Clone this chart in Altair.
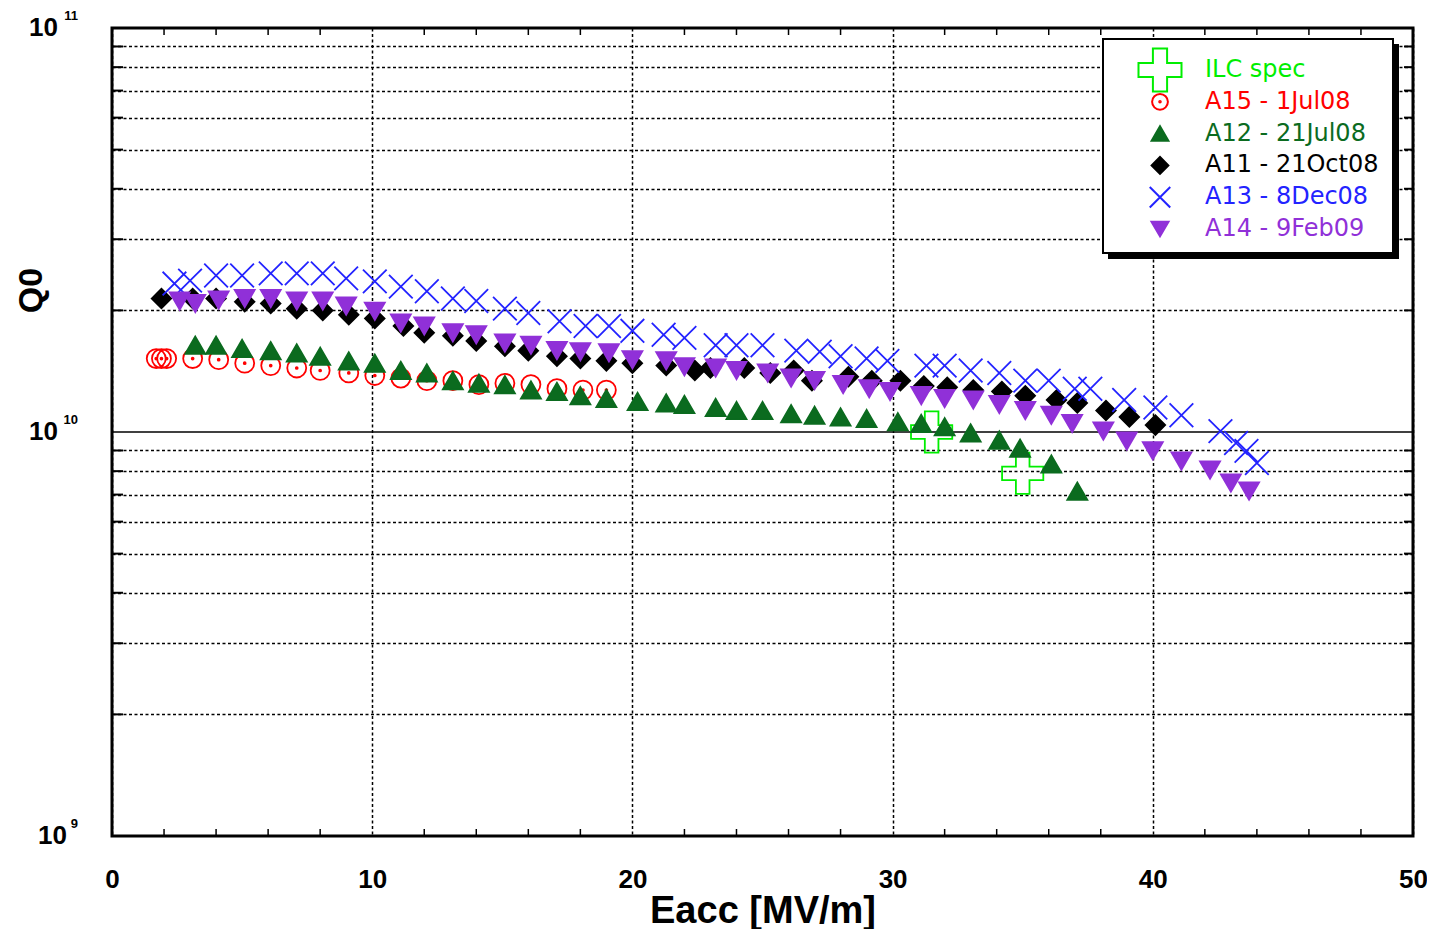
import altair as alt
import pandas as pd

# ---------------- data ----------------
series = ["ILC spec", "A15 - 1Jul08", "A12 - 21Jul08", "A11 - 21Oct08", "A13 - 8Dec08", "A14 - 9Feb09"]
stroke_colors = ["#00ee00", "#ff0000", "#0b6b1f", "#000000", "#2323ff", "#9030d8"]
fill_colors = ["transparent", "transparent", "#0b6b1f", "#000000", "transparent", "#9030d8"]

ilc_e = [31.5, 35.0]
ilc_q = [1.0e10, 7.9e9]

a15_e = [1.7, 1.9, 2.1, 3.1, 4.1, 5.1, 6.1, 7.1, 8.0, 9.1, 10.1, 11.1, 12.1, 13.1, 14.1, 15.1, 16.1, 17.1, 18.1, 19.0]
a15_q = [1.52, 1.52, 1.52, 1.52, 1.51, 1.48, 1.46, 1.44, 1.42, 1.40, 1.38, 1.36, 1.34, 1.34, 1.31, 1.32, 1.31, 1.28, 1.27, 1.27]

a12_e = [3.2, 4.0, 5.0, 6.1, 7.1, 8.0, 9.1, 10.1, 11.1, 12.1, 13.1, 14.1, 15.1, 16.1, 17.1, 18.0, 19.0, 20.2,
         21.3, 22.0, 23.2, 24.0, 25.0, 26.1, 27.0, 28.0, 29.0, 30.2, 31.1, 32.0, 33.0, 34.1, 34.9, 36.1, 37.1]
a12_q = [1.64, 1.64, 1.61, 1.59, 1.57, 1.54, 1.50, 1.48, 1.42, 1.40, 1.34, 1.32, 1.31, 1.27, 1.26, 1.23, 1.21, 1.19,
         1.18, 1.17, 1.15, 1.13, 1.13, 1.11, 1.10, 1.09, 1.08, 1.06, 1.05, 1.03, 0.995, 0.955, 0.912, 0.833, 0.714]

a11_e = [1.9, 3.1, 4.0, 5.1, 6.1, 7.1, 8.1, 9.1, 10.1, 11.2, 12.0, 13.1, 14.0, 15.1, 16.0, 17.1, 18.0, 19.0, 20.0,
         21.3, 22.4, 23.0, 24.3, 25.3, 26.2, 26.9, 28.3, 29.2, 30.3, 31.2, 32.1, 33.1, 34.2, 35.1, 36.3, 37.1, 38.2,
         39.1, 40.1]
a11_q = [2.14, 2.14, 2.14, 2.10, 2.08, 2.02, 2.00, 1.95, 1.91, 1.83, 1.76, 1.73, 1.68, 1.63, 1.59, 1.54, 1.52, 1.50,
         1.48, 1.46, 1.42, 1.44, 1.44, 1.40, 1.42, 1.34, 1.37, 1.34, 1.34, 1.30, 1.29, 1.27, 1.26, 1.23, 1.20, 1.18,
         1.13, 1.09, 1.04]

a13_e = [2.4, 3.0, 4.0, 5.0, 6.1, 7.1, 8.1, 9.0, 10.1, 11.1, 12.1, 13.1, 14.0, 15.1, 16.0, 17.2, 18.2, 19.1, 20.0,
         21.2, 22.0, 23.2, 24.0, 25.0, 26.3, 27.2, 28.0, 29.0, 29.8, 31.3, 32.0, 33.0, 34.1, 35.1, 36.0, 37.0, 37.6,
         38.9, 40.1, 41.1, 42.6, 43.2, 43.6, 44.0]
a13_q = [2.33, 2.37, 2.44, 2.44, 2.47, 2.47, 2.47, 2.40, 2.36, 2.29, 2.23, 2.14, 2.11, 2.02, 1.97, 1.88, 1.83, 1.83,
         1.78, 1.74, 1.71, 1.64, 1.64, 1.64, 1.59, 1.58, 1.54, 1.52, 1.50, 1.46, 1.46, 1.42, 1.40, 1.34, 1.34, 1.28,
         1.28, 1.20, 1.15, 1.10, 1.005, 0.939, 0.898, 0.838]

a14_e = [2.6, 3.2, 4.1, 5.1, 6.1, 7.1, 8.1, 9.0, 10.1, 11.1, 12.0, 13.1, 14.0, 15.1, 16.1, 17.1, 18.0, 19.1, 20.0,
         21.3, 22.0, 23.2, 24.0, 25.2, 26.1, 27.0, 28.1, 29.1, 29.9, 31.1, 32.0, 33.1, 34.1, 35.1, 36.1, 36.9, 38.1,
         39.0, 40.0, 41.1, 42.2, 43.0, 43.7]
a14_q = [2.11, 2.08, 2.12, 2.14, 2.14, 2.11, 2.11, 2.05, 1.99, 1.86, 1.83, 1.76, 1.74, 1.66, 1.64, 1.59, 1.58, 1.57,
         1.51, 1.50, 1.45, 1.44, 1.42, 1.40, 1.36, 1.34, 1.31, 1.28, 1.26, 1.23, 1.21, 1.20, 1.17, 1.13, 1.10, 1.05,
         1.005, 0.950, 0.898, 0.847, 0.805, 0.748, 0.714]

x_tick_values = [0, 10, 20, 30, 40, 50]
x_minor_ticks = [2, 4, 6, 8, 12, 14, 16, 18, 22, 24, 26, 28, 32, 34, 36, 38, 42, 44, 46, 48]
y_minor_values = [2e9, 3e9, 4e9, 5e9, 6e9, 7e9, 8e9, 9e9, 2e10, 3e10, 4e10, 5e10, 6e10, 7e10, 8e10, 9e10]
decades = [9, 10, 11]

# ---------------- tables ----------------
rows = []
for name, es, qs, mult in [
    (series[0], ilc_e, ilc_q, 1.0),
    (series[1], a15_e, a15_q, 1e10),
    (series[2], a12_e, a12_q, 1e10),
    (series[3], a11_e, a11_q, 1e10),
    (series[4], a13_e, a13_q, 1e10),
    (series[5], a14_e, a14_q, 1e10),
]:
    for e, q in zip(es, qs):
        rows.append({"series": name, "E": e, "Q": q * mult})
df = pd.DataFrame(rows)

df_dec = pd.DataFrame({"Q": [10.0 ** d for d in decades], "exp": [str(d) for d in decades]})
leg_df = pd.DataFrame({"series": series})

plus_path = ("M-0.33,-1L0.33,-1L0.33,-0.33L1,-0.33L1,0.33L0.33,0.33L0.33,1"
             "L-0.33,1L-0.33,0.33L-1,0.33L-1,-0.33L-0.33,-0.33Z")
circ_path = ("M-1,0A1,1 0 1,1 1,0A1,1 0 1,1 -1,0Z"
             "M-0.1,0A0.1,0.1 0 1,1 0.1,0A0.1,0.1 0 1,1 -0.1,0Z")
x_path = "M-1,-1L1,1M-1,1L1,-1"
shapes = [plus_path, circ_path, "triangle-up", "diamond", x_path, "triangle-down"]
sizes = [1700, 360, 400, 380, 560, 400]
legend_sizes = [1850, 250, 280, 280, 420, 290]

W, H = 1301, 808
FONT = "Liberation Sans"

x_axis = alt.Axis(
    values=x_tick_values, grid=True, gridDash=[3, 2.5], gridColor="black", gridWidth=1.5,
    ticks=False, tickSize=0, domain=False, labelFont=FONT, labelFontWeight="bold", labelFontSize=26,
    labelColor="black", labelPadding=43, labelBaseline="middle", labelFlush=False, labelOverlap=False,
    title="Eacc [MV/m]", titleFont=FONT, titleFontWeight="bold", titleFontSize=38, titleColor="black",
    titleY=86, titleBaseline="alphabetic",
)
y_axis = alt.Axis(
    values=y_minor_values, grid=True, gridDash=[3, 2.5], gridColor="black", gridWidth=1.5,
    ticks=False, domain=False, labels=False,
    title="Q0", titleFont=FONT, titleFontWeight="bold", titleFontSize=34, titleColor="black",
    titleX=-81, titleY=262, titleAngle=270, titleAlign="center", titleBaseline="middle",
)

xs = alt.Scale(domain=[0, 50], nice=False, zero=False)
ys = alt.Scale(type="log", domain=[1e9, 1e11], nice=False)

# ---------------- main plot ----------------
ref_line = alt.Chart(pd.DataFrame({"Q": [1e10]})).mark_rule(color="black", strokeWidth=1.6).encode(
    y=alt.Y("Q:Q", scale=ys, axis=y_axis)
)

ticks_df = pd.DataFrame({"E": x_minor_ticks})
ticks_top = alt.Chart(ticks_df).mark_rule(color="black", strokeWidth=1.5).encode(
    x=alt.X("E:Q", scale=xs, axis=x_axis), y=alt.value(0), y2=alt.value(7)
)
ticks_bot = alt.Chart(ticks_df).mark_rule(color="black", strokeWidth=1.5).encode(
    x=alt.X("E:Q", scale=xs, axis=x_axis), y=alt.value(H - 7), y2=alt.value(H)
)
yticks_df = pd.DataFrame({"Q": y_minor_values})
yticks_left = alt.Chart(yticks_df).mark_rule(color="black", strokeWidth=2).encode(
    y=alt.Y("Q:Q", scale=ys, axis=y_axis), x=alt.value(0), x2=alt.value(11)
)
yticks_right = alt.Chart(yticks_df).mark_rule(color="black", strokeWidth=2).encode(
    y=alt.Y("Q:Q", scale=ys, axis=y_axis), x=alt.value(W - 9), x2=alt.value(W)
)

points = alt.Chart(df).mark_point(filled=False, opacity=1, strokeWidth=1.8).encode(
    x=alt.X("E:Q", scale=xs, axis=x_axis),
    y=alt.Y("Q:Q", scale=ys, axis=y_axis),
    shape=alt.Shape("series:N", scale=alt.Scale(domain=series, range=shapes), legend=None),
    stroke=alt.Stroke("series:N", scale=alt.Scale(domain=series, range=stroke_colors), legend=None),
    fill=alt.Fill("series:N", scale=alt.Scale(domain=series, range=fill_colors), legend=None),
    size=alt.Size("series:N", scale=alt.Scale(type="ordinal", domain=series, range=sizes), legend=None),
)

dec = alt.Chart(df_dec)
base_two = dec.transform_filter("length(datum.exp) == 2").mark_text(
    text="10", align="right", baseline="middle", font=FONT, fontWeight="bold", fontSize=26, color="black"
).encode(x=alt.value(-54), y=alt.Y("Q:Q", scale=ys, axis=y_axis))
base_one = dec.transform_filter("length(datum.exp) == 1").mark_text(
    text="10", align="right", baseline="middle", font=FONT, fontWeight="bold", fontSize=26, color="black"
).encode(x=alt.value(-45), y=alt.Y("Q:Q", scale=ys, axis=y_axis))
expo = dec.mark_text(
    align="right", baseline="middle", font=FONT, fontWeight="bold", fontSize=13, color="black", dy=-12
).encode(x=alt.value(-34), y=alt.Y("Q:Q", scale=ys, axis=y_axis), text="exp:N")

main = alt.layer(ref_line, ticks_top, ticks_bot, yticks_left, yticks_right, points, base_two, base_one, expo)

# ---------------- legend box ----------------
one = pd.DataFrame({"k": [0]})
shadow = alt.Chart(one).mark_rect(color="black").encode(
    x=alt.value(996), x2=alt.value(1287), y=alt.value(16), y2=alt.value(231)
)
box = alt.Chart(one).mark_rect(fill="white", stroke="black", strokeWidth=2).encode(
    x=alt.value(991), x2=alt.value(1281), y=alt.value(11), y2=alt.value(225)
)
leg_y = alt.Y("series:N", scale=alt.Scale(domain=series, range=[42, 201], padding=0), axis=None)
leg_sym = alt.Chart(leg_df).mark_point(filled=False, opacity=1, strokeWidth=2).encode(
    x=alt.value(1048),
    y=leg_y,
    shape=alt.Shape("series:N", scale=alt.Scale(domain=series, range=shapes), legend=None),
    stroke=alt.Stroke("series:N", scale=alt.Scale(domain=series, range=stroke_colors), legend=None),
    fill=alt.Fill("series:N", scale=alt.Scale(domain=series, range=fill_colors), legend=None),
    size=alt.Size("series:N", scale=alt.Scale(type="ordinal", domain=series, range=legend_sizes), legend=None),
)
leg_txt = alt.Chart(leg_df).mark_text(
    align="left", baseline="middle", font="DejaVu Sans", fontSize=24
).encode(
    x=alt.value(1093),
    y=leg_y,
    text="series:N",
    color=alt.Color("series:N", scale=alt.Scale(domain=series, range=stroke_colors), legend=None),
)
legend_layer = alt.layer(shadow, box, leg_sym, leg_txt)

chart = alt.layer(main, legend_layer).resolve_scale(
    x="independent", y="independent", shape="independent", stroke="independent",
    fill="independent", size="independent", color="independent",
).properties(
    width=W, height=H,
    autosize=alt.AutoSizeParams(type="none"),
    padding={"left": 104, "top": 20, "right": 14, "bottom": 93},
    background="white",
).configure_view(stroke="black", strokeWidth=3)

chart.save("out.html", embed_options={"renderer": "svg", "actions": False})
